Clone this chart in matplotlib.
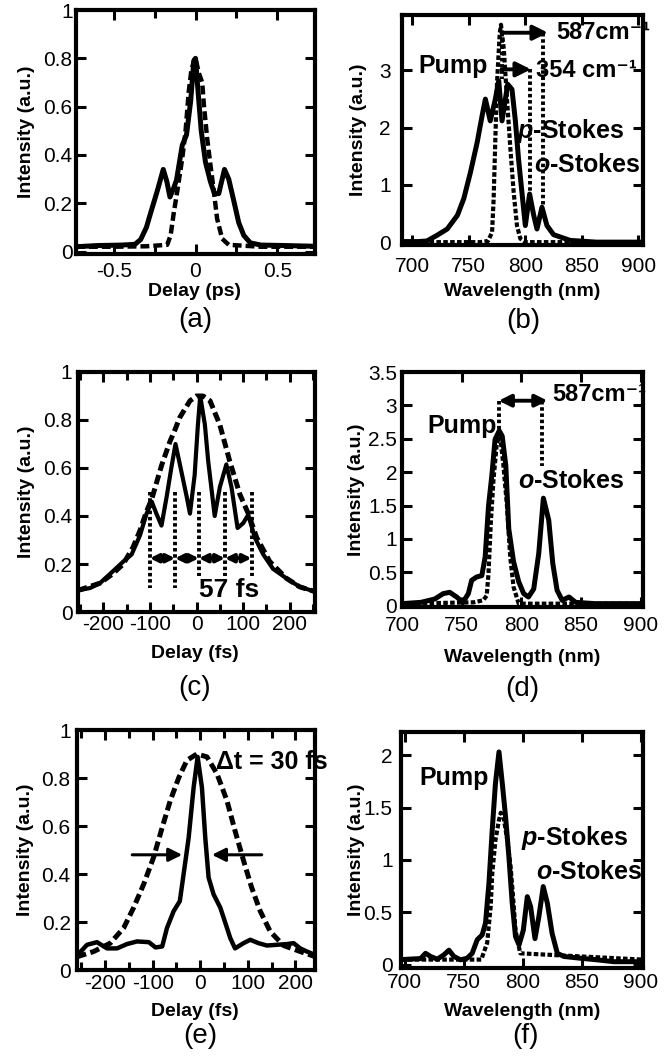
import matplotlib
matplotlib.use("Agg")
import matplotlib.pyplot as plt
from matplotlib.ticker import FuncFormatter, MultipleLocator

plt.rcParams["font.family"] = ["Liberation Sans", "DejaVu Sans"]
plt.rcParams["mathtext.fontset"] = "custom"
plt.rcParams["mathtext.rm"] = "Liberation Sans:bold"
plt.rcParams["mathtext.bf"] = "Liberation Sans:bold"
plt.rcParams["mathtext.it"] = "Liberation Sans:bold:italic"
plt.rcParams["axes.unicode_minus"] = False

W, H = 667, 1060

# ---- data ----
# (a) autocorrelation, ps
a_solid_x = [-0.73, -0.6, -0.45, -0.37, -0.335, -0.30, -0.274, -0.234, -0.197, -0.175, -0.156, -0.135, -0.116,
             -0.081, -0.055, -0.03, -0.01, 0.0, 0.016, 0.035, 0.061, 0.091, 0.116, 0.142, 0.177, 0.203, 0.234,
             0.264, 0.295, 0.335, 0.40, 0.55, 0.73]
a_solid_y = [0.02, 0.025, 0.027, 0.03, 0.05, 0.10, 0.16, 0.25, 0.34, 0.29, 0.226, 0.26, 0.296,
             0.44, 0.483, 0.62, 0.79, 0.80, 0.66, 0.50, 0.37, 0.29, 0.24, 0.24, 0.34, 0.30, 0.21,
             0.12, 0.067, 0.036, 0.027, 0.025, 0.022]
a_dash_x = [-0.73, -0.5, -0.30, -0.173, -0.152, -0.132, -0.112, -0.081, -0.061, -0.041, -0.026, -0.006, 0.0,
            0.02, 0.041, 0.051, 0.071, 0.091, 0.112, 0.132, 0.163, 0.203, 0.4, 0.73]
a_dash_y = [0.02, 0.02, 0.022, 0.028, 0.067, 0.164, 0.247, 0.386, 0.497, 0.664, 0.747, 0.80, 0.80,
            0.74, 0.70, 0.61, 0.47, 0.36, 0.25, 0.136, 0.053, 0.028, 0.02, 0.02]

# (b) spectrum, nm
b_solid_x = [691, 705, 713, 722, 731, 740, 745.6, 751.5, 757.4, 761.8, 764.7, 769, 773.5, 776.5, 779.4, 784.4,
             788.2, 791.2, 794, 797, 800, 803.8, 807.4, 810.3, 814.7, 819.1, 825, 830.9, 839.7, 863, 905]
b_solid_y = [0.01, 0.01, 0.02, 0.12, 0.23, 0.47, 0.76, 1.22, 1.74, 2.21, 2.5, 2.12, 2.5, 2.82, 2.12, 2.76,
             2.67, 2.12, 1.45, 0.87, 0.29, 0.84, 0.47, 0.23, 0.61, 0.29, 0.13, 0.09, 0.03, 0.0, 0.0]
b_dash_x = [691, 760, 767, 770.6, 772, 773.5, 775, 777.4, 778.5, 781, 784, 786.8, 789.7, 792.6, 795.6, 800, 905]
b_dash_y = [0.0, 0.0, 0.02, 0.17, 0.76, 1.8, 2.79, 3.66, 3.8, 3.37, 2.44, 1.63, 0.87, 0.29, 0.06, 0.0, 0.0]

# (c) autocorrelation, fs
c_solid_x = [-254, -228, -207, -179, -157, -139, -121, -107, -96, -86, -75, -64, -54, -45, -34, -21, -14, -4, 3,
             8, 18, 25, 39, 50, 64, 75, 88, 100, 111, 125, 143, 164, 193, 221, 254]
c_solid_y = [0.09, 0.10, 0.12, 0.17, 0.21, 0.24, 0.32, 0.41, 0.46, 0.41, 0.36, 0.48, 0.60, 0.70, 0.60, 0.48,
             0.41, 0.57, 0.78, 0.90, 0.78, 0.63, 0.40, 0.52, 0.615, 0.52, 0.35, 0.37, 0.405, 0.31, 0.24, 0.18,
             0.14, 0.105, 0.085]
c_dash_x = [-254, -207, -179, -157, -136, -121, -107, -96, -75, -57, -46, -36, -14, 0, 14, 29, 50, 71, 93, 111,
            129, 157, 193, 221, 254]
c_dash_y = [0.09, 0.12, 0.16, 0.20, 0.27, 0.34, 0.42, 0.47, 0.61, 0.71, 0.76, 0.81, 0.88, 0.90, 0.90, 0.88,
            0.78, 0.63, 0.49, 0.41, 0.31, 0.21, 0.14, 0.105, 0.085]
c_marks = [-100, -46, 5, 61, 118]

# (d) spectrum, nm
d_solid_x = [700, 716, 727.5, 734.5, 740, 745.8, 751, 755.6, 758.4, 762.6, 766.9, 769.7, 772.5, 775.3, 778,
             781.5, 784, 787, 789.5, 793.5, 797.8, 802, 806, 810.4, 814.6, 818.5, 823, 826.4, 830, 834.3, 840,
             845.5, 862, 902]
d_solid_y = [0.03, 0.05, 0.10, 0.18, 0.20, 0.13, 0.05, 0.18, 0.38, 0.43, 0.45, 0.73, 1.49, 1.95, 2.49, 2.62,
             2.54, 2.10, 1.15, 0.66, 0.36, 0.18, 0.13, 0.25, 0.78, 1.61, 1.28, 0.63, 0.23, 0.08, 0.13, 0.05,
             0.03, 0.03]
d_dash_x = [700, 760, 768, 771, 772.5, 774.4, 776.7, 779.5, 782.3, 785, 788, 790.7, 793.5, 797.8, 902]
d_dash_y = [0.03, 0.05, 0.08, 0.15, 0.48, 1.23, 1.89, 2.44, 2.54, 2.1, 1.49, 0.73, 0.28, 0.03, 0.03]

# (e) autocorrelation, fs
e_solid_x = [-259, -238, -217, -196, -175, -154, -133, -108, -94, -80, -70, -56, -43, -35, -24.5, -14, -5.6,
             3.5, 10.5, 17.5, 28, 42, 52, 63, 73, 91, 105, 122, 140, 161, 182, 196, 210, 224, 241]
e_solid_y = [0.06, 0.105, 0.116, 0.09, 0.09, 0.108, 0.119, 0.116, 0.094, 0.098, 0.175, 0.245, 0.287, 0.40,
             0.55, 0.76, 0.888, 0.76, 0.55, 0.385, 0.315, 0.26, 0.20, 0.133, 0.09, 0.112, 0.126, 0.112, 0.102,
             0.105, 0.108, 0.112, 0.09, 0.077, 0.063]
e_dash_x = [-259, -224, -189, -161, -140, -119, -98, -80, -63, -45.5, -28, -7, 14, 35, 56, 73, 91, 108, 126,
            147, 175, 210, 241]
e_dash_y = [0.055, 0.077, 0.112, 0.175, 0.26, 0.357, 0.47, 0.594, 0.706, 0.80, 0.874, 0.90, 0.888, 0.818,
            0.706, 0.58, 0.455, 0.343, 0.245, 0.16, 0.102, 0.077, 0.056]

# (f) spectrum, nm
f_solid_x = [697, 713.6, 717.8, 722, 727.7, 733.3, 737.6, 741.8, 747.5, 753, 757.3, 761.6, 765.8, 768.6, 771.5,
             774.3, 777, 780, 782.8, 785.6, 788.4, 791.2, 794, 797, 800.6, 804, 806.8, 810.5, 813.8, 817.5, 821,
             825, 829.4, 835, 849, 863, 877.4, 902]
f_solid_y = [0.05, 0.06, 0.11, 0.08, 0.054, 0.095, 0.14, 0.08, 0.048, 0.063, 0.11, 0.24, 0.286, 0.40, 0.78,
             1.29, 1.73, 2.03, 1.73, 1.41, 1.03, 0.59, 0.27, 0.19, 0.33, 0.65, 0.556, 0.25, 0.46, 0.746, 0.587,
             0.30, 0.11, 0.08, 0.063, 0.048, 0.03, 0.03]
f_dash_x = [697, 765, 770, 773, 774.3, 777, 780, 781.5, 784, 787, 789.8, 791.5, 794, 798, 902]
f_dash_y = [0.05, 0.05, 0.21, 0.56, 0.87, 1.19, 1.38, 1.45, 1.40, 1.19, 0.94, 0.71, 0.33, 0.11, 0.05]

TICK_FS = 15
LABEL_FS = 14
ANN_FS = 18
PANEL_FS = 20
fmt = FuncFormatter(lambda v, p: "%g" % round(v, 6))
WAVENUM = "cm\u207b\u00b9"


def box(l, t, r, b):
    return [l / W, 1 - b / H, (r - l) / W, (b - t) / H]


def ftext(x, y, s, **kw):
    fig.text(x / W, 1 - y / H, s, ha="center", va="center", **kw)


def style(ax, xlim, ylim, xmajor, ymajor, xpad, ypad, xminor=None):
    ax.set_xlim(*xlim)
    ax.set_ylim(*ylim)
    ax.xaxis.set_major_locator(MultipleLocator(xmajor))
    ax.yaxis.set_major_locator(MultipleLocator(ymajor))
    if xminor:
        ax.xaxis.set_minor_locator(MultipleLocator(xminor))
    ax.xaxis.set_major_formatter(fmt)
    ax.yaxis.set_major_formatter(fmt)
    for s in ax.spines.values():
        s.set_linewidth(3.0)
    ax.tick_params(which="both", direction="in", top=True, right=True, width=2.2, labelsize=TICK_FS)
    ax.tick_params(which="major", length=7)
    ax.tick_params(which="minor", length=6)
    ax.tick_params(axis="x", pad=xpad)
    ax.tick_params(axis="y", pad=ypad)


def vdot(ax, x, y0, y1, lw=2.8):
    ax.plot([x, x], [y0, y1], color="k", lw=lw, ls=(0, (0.9, 0.7)), clip_on=False)


def arrow(ax, x0, x1, y, style_="-|>", lw=2.8, ms=22):
    ax.annotate("", xy=(x1, y), xytext=(x0, y),
                arrowprops=dict(arrowstyle=style_, color="k", lw=lw, mutation_scale=ms,
                                shrinkA=0, shrinkB=0), annotation_clip=False)


def ann(ax, x, y, s, ha="left", size=ANN_FS):
    ax.text(x, y, s, ha=ha, va="center", fontsize=size, fontweight="bold", clip_on=False)


fig = plt.figure(figsize=(W / 100, H / 100), dpi=100)

# (a)
ax = fig.add_axes(box(76, 10, 315, 254))
ax.plot(a_solid_x, a_solid_y, color="k", lw=3.6)
ax.plot(a_dash_x, a_dash_y, color="k", lw=3.2, ls=(0, (2.0, 0.9)))
style(ax, (-0.73, 0.73), (-0.01, 1.0), 0.5, 0.2, 6, 2.5, xminor=0.25)
ftext(27, 132, "Intensity (a.u.)", rotation=90, fontsize=LABEL_FS, fontweight="bold")
ftext(195, 292, "Delay (ps)", fontsize=LABEL_FS, fontweight="bold")
ftext(195, 320, "(a)", fontsize=PANEL_FS)

# (b)
ax = fig.add_axes(box(402, 15, 643, 245))
ax.plot(b_solid_x, b_solid_y, color="k", lw=3.6)
ax.plot(b_dash_x, b_dash_y, color="k", lw=3.0, ls=(0, (1.1, 0.55)))
style(ax, (691, 904), (-0.05, 3.97), 50, 1, 8.5, 8)
vdot(ax, 779, 3.66, 2.85)
vdot(ax, 803.8, 3.02, 0.84)
vdot(ax, 816, 3.66, 0.62)
arrow(ax, 779, 820, 3.66)
arrow(ax, 779, 805, 3.02)
ann(ax, 827, 3.66, "587" + WAVENUM, size=17)
ann(ax, 809, 3.0, "354 " + WAVENUM, size=17)
ann(ax, 767, 3.08, "Pump", ha="right")
ann(ax, 793, 1.95, r"$p$-Stokes")
ann(ax, 808, 1.34, r"$o$-Stokes")
ftext(358, 130, "Intensity (a.u.)", rotation=90, fontsize=LABEL_FS, fontweight="bold")
ftext(522, 291, "Wavelength (nm)", fontsize=LABEL_FS, fontweight="bold")
ftext(523, 321, "(b)", fontsize=PANEL_FS)

# (c)
ax = fig.add_axes(box(78, 372, 315, 612))
ax.plot(c_solid_x, c_solid_y, color="k", lw=3.0)
ax.plot(c_dash_x, c_dash_y, color="k", lw=3.6, ls=(0, (1.9, 0.9)))
style(ax, (-254, 254), (0, 1), 100, 0.2, 2.5, 4, xminor=50)
for i, xm in enumerate(c_marks):
    vdot(ax, xm, 0.50, 0.10 if i < 2 else 0.15)
for x0, x1 in zip(c_marks[:-1], c_marks[1:]):
    arrow(ax, x0, x1, 0.224, style_="<|-|>", lw=2.8, ms=12)
ann(ax, 5, 0.091, "57 fs", size=19)
ftext(27, 492, "Intensity (a.u.)", rotation=90, fontsize=LABEL_FS, fontweight="bold")
ftext(195, 653, "Delay (fs)", fontsize=LABEL_FS, fontweight="bold")
ftext(195, 688, "(c)", fontsize=PANEL_FS)

# (d)
ax = fig.add_axes(box(402, 372, 643, 607))
ax.plot(d_solid_x, d_solid_y, color="k", lw=3.6)
ax.plot(d_dash_x, d_dash_y, color="k", lw=3.0, ls=(0, (1.1, 0.55)))
style(ax, (700, 902), (-0.02, 3.5), 50, 0.5, 6.5, 3.5)
vdot(ax, 781, 3.07, 2.62)
vdot(ax, 817.4, 3.07, 2.09)
arrow(ax, 781, 822, 3.07, style_="<|-|>", ms=18)
ann(ax, 826, 3.17, "587" + WAVENUM, size=17)
ann(ax, 779, 2.69, "Pump", ha="right")
ann(ax, 797, 1.86, r"$o$-Stokes")
ftext(357, 490, "Intensity (a.u.)", rotation=90, fontsize=LABEL_FS, fontweight="bold")
ftext(522, 657, "Wavelength (nm)", fontsize=LABEL_FS, fontweight="bold")
ftext(522, 689, "(d)", fontsize=PANEL_FS)

# (e)
ax = fig.add_axes(box(77, 730, 315, 970))
ax.plot(e_solid_x, e_solid_y, color="k", lw=3.2)
ax.plot(e_dash_x, e_dash_y, color="k", lw=3.6, ls=(0, (1.9, 0.9)))
style(ax, (-259, 241), (0, 1), 100, 0.2, 3, 4.5, xminor=50)
arrow(ax, -143, -38, 0.48, lw=2.2, ms=20)
arrow(ax, 129, 24.5, 0.48, lw=2.2, ms=20)
ann(ax, 33, 0.867, "Δt = 30 fs")
ftext(25, 850, "Intensity (a.u.)", rotation=90, fontsize=LABEL_FS, fontweight="bold")
ftext(195, 1012, "Delay (fs)", fontsize=LABEL_FS, fontweight="bold")
ftext(200, 1036, "(e)", fontsize=PANEL_FS)

# (f)
ax = fig.add_axes(box(401, 732, 643, 968))
ax.plot(f_solid_x, f_solid_y, color="k", lw=3.6)
ax.plot(f_dash_x, f_dash_y, color="k", lw=3.0, ls=(0, (1.1, 0.55)))
style(ax, (697, 902), (-0.03, 2.22), 50, 0.5, 3.5, 6)
ann(ax, 771, 1.78, "Pump", ha="right")
ann(ax, 799, 1.21, r"$p$-Stokes")
ann(ax, 811.5, 0.89, r"$o$-Stokes")
ftext(357, 850, "Intensity (a.u.)", rotation=90, fontsize=LABEL_FS, fontweight="bold")
ftext(522, 1012, "Wavelength (nm)", fontsize=LABEL_FS, fontweight="bold")
ftext(525, 1036, "(f)", fontsize=PANEL_FS)

fig.savefig("out.png", dpi=100)
